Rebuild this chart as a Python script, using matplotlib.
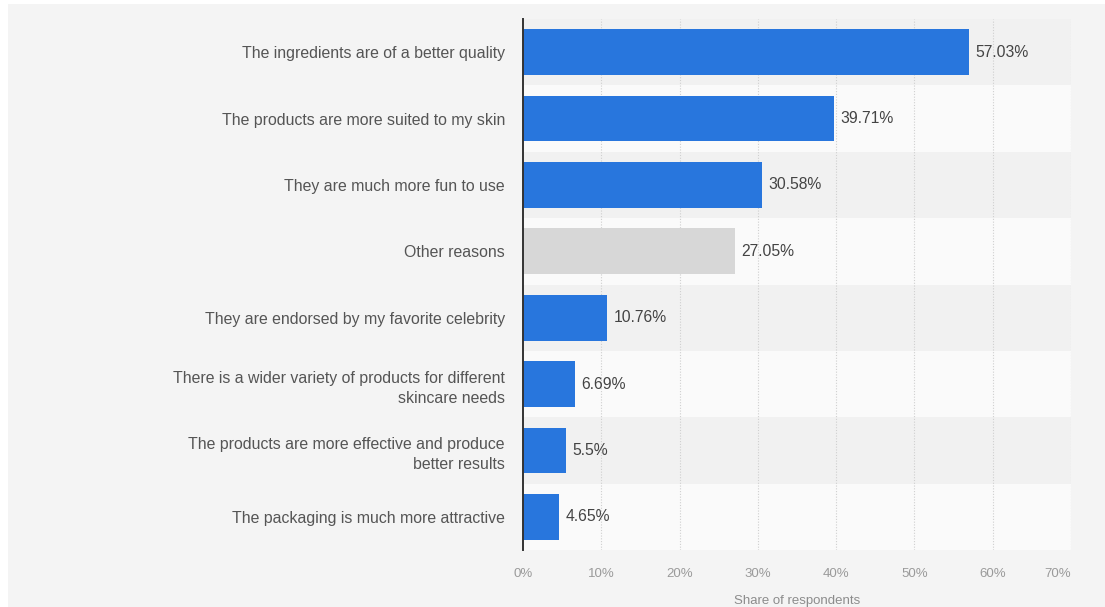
import matplotlib
matplotlib.use("Agg")
import matplotlib.pyplot as plt
from matplotlib.patches import Rectangle
from matplotlib.ticker import FuncFormatter

categories = [
    "The ingredients are of a better quality",
    "The products are more suited to my skin",
    "They are much more fun to use",
    "Other reasons",
    "They are endorsed by my favorite celebrity",
    "There is a wider variety of products for different\nskincare needs",
    "The products are more effective and produce\nbetter results",
    "The packaging is much more attractive",
]
values = [57.03, 39.71, 30.58, 27.05, 10.76, 6.69, 5.5, 4.65]
value_labels = ["57.03%", "39.71%", "30.58%", "27.05%", "10.76%", "6.69%", "5.5%", "4.65%"]
highlight_gray = ["Other reasons"]
x_ticks = [0, 10, 20, 30, 40, 50, 60, 70]
x_label = "Share of respondents"

BLUE = "#2876dd"
GRAY_BAR = "#d7d7d7"
BG = "#f4f4f4"

plt.rcParams["font.family"] = ["Liberation Sans", "DejaVu Sans"]

fig = plt.figure(figsize=(11.05, 6.07), dpi=100, facecolor="white")
# light gray canvas with a thin white border at top and left
fig.patches.append(Rectangle((8 / 1105, 0), 1, 1 - 4 / 607, transform=fig.transFigure,
                             facecolor=BG, edgecolor="none", zorder=-10))

ax = fig.add_axes([523 / 1105, 1 - 550 / 607, 548 / 1105, (550 - 19) / 607])
ax.set_facecolor("none")

n = len(categories)
ypos = list(range(n))
for i in ypos:
    ax.axhspan(i - 0.5, i + 0.5, facecolor="#f1f1f1" if i % 2 == 0 else "#fafafa",
               edgecolor="none", zorder=0)

colors = [GRAY_BAR if c in highlight_gray else BLUE for c in categories]
ax.barh(ypos, values, height=0.69, color=colors, zorder=3)

for y, v, lab in zip(ypos, values, value_labels):
    ax.text(v + 0.8, y, lab, va="center", ha="left", fontsize=11.3, color="#444444", zorder=4)

ax.set_xlim(0, 70)
ax.set_ylim(n - 0.5, -0.5)
ax.set_xticks(x_ticks)
ax.xaxis.set_major_formatter(FuncFormatter(lambda v, p: f"{v:.0f}%"))
ax.set_yticks(ypos)
ax.set_yticklabels(categories, fontsize=11.4, color="#555555", linespacing=1.45)
ax.tick_params(axis="y", length=0, pad=13)
ax.tick_params(axis="x", length=0, pad=13, labelsize=9.5, labelcolor="#9a9a9a")
# keep the last tick label inside the plot's right edge
ax.get_xticklabels()[-1].set_horizontalalignment("right")

for t in x_ticks[1:]:
    ax.axvline(t, color="#cfcfcf", linestyle=(0, (1, 1.5)), linewidth=0.8, zorder=1)

for s in ["top", "right", "bottom"]:
    ax.spines[s].set_visible(False)
ax.spines["left"].set_color("#333333")
ax.spines["left"].set_linewidth(1.4)
ax.spines["left"].set_zorder(5)

ax.set_xlabel(x_label, fontsize=9.5, color="#8c8c8c", labelpad=11)

fig.savefig("out.png", dpi=100, facecolor=fig.get_facecolor())
